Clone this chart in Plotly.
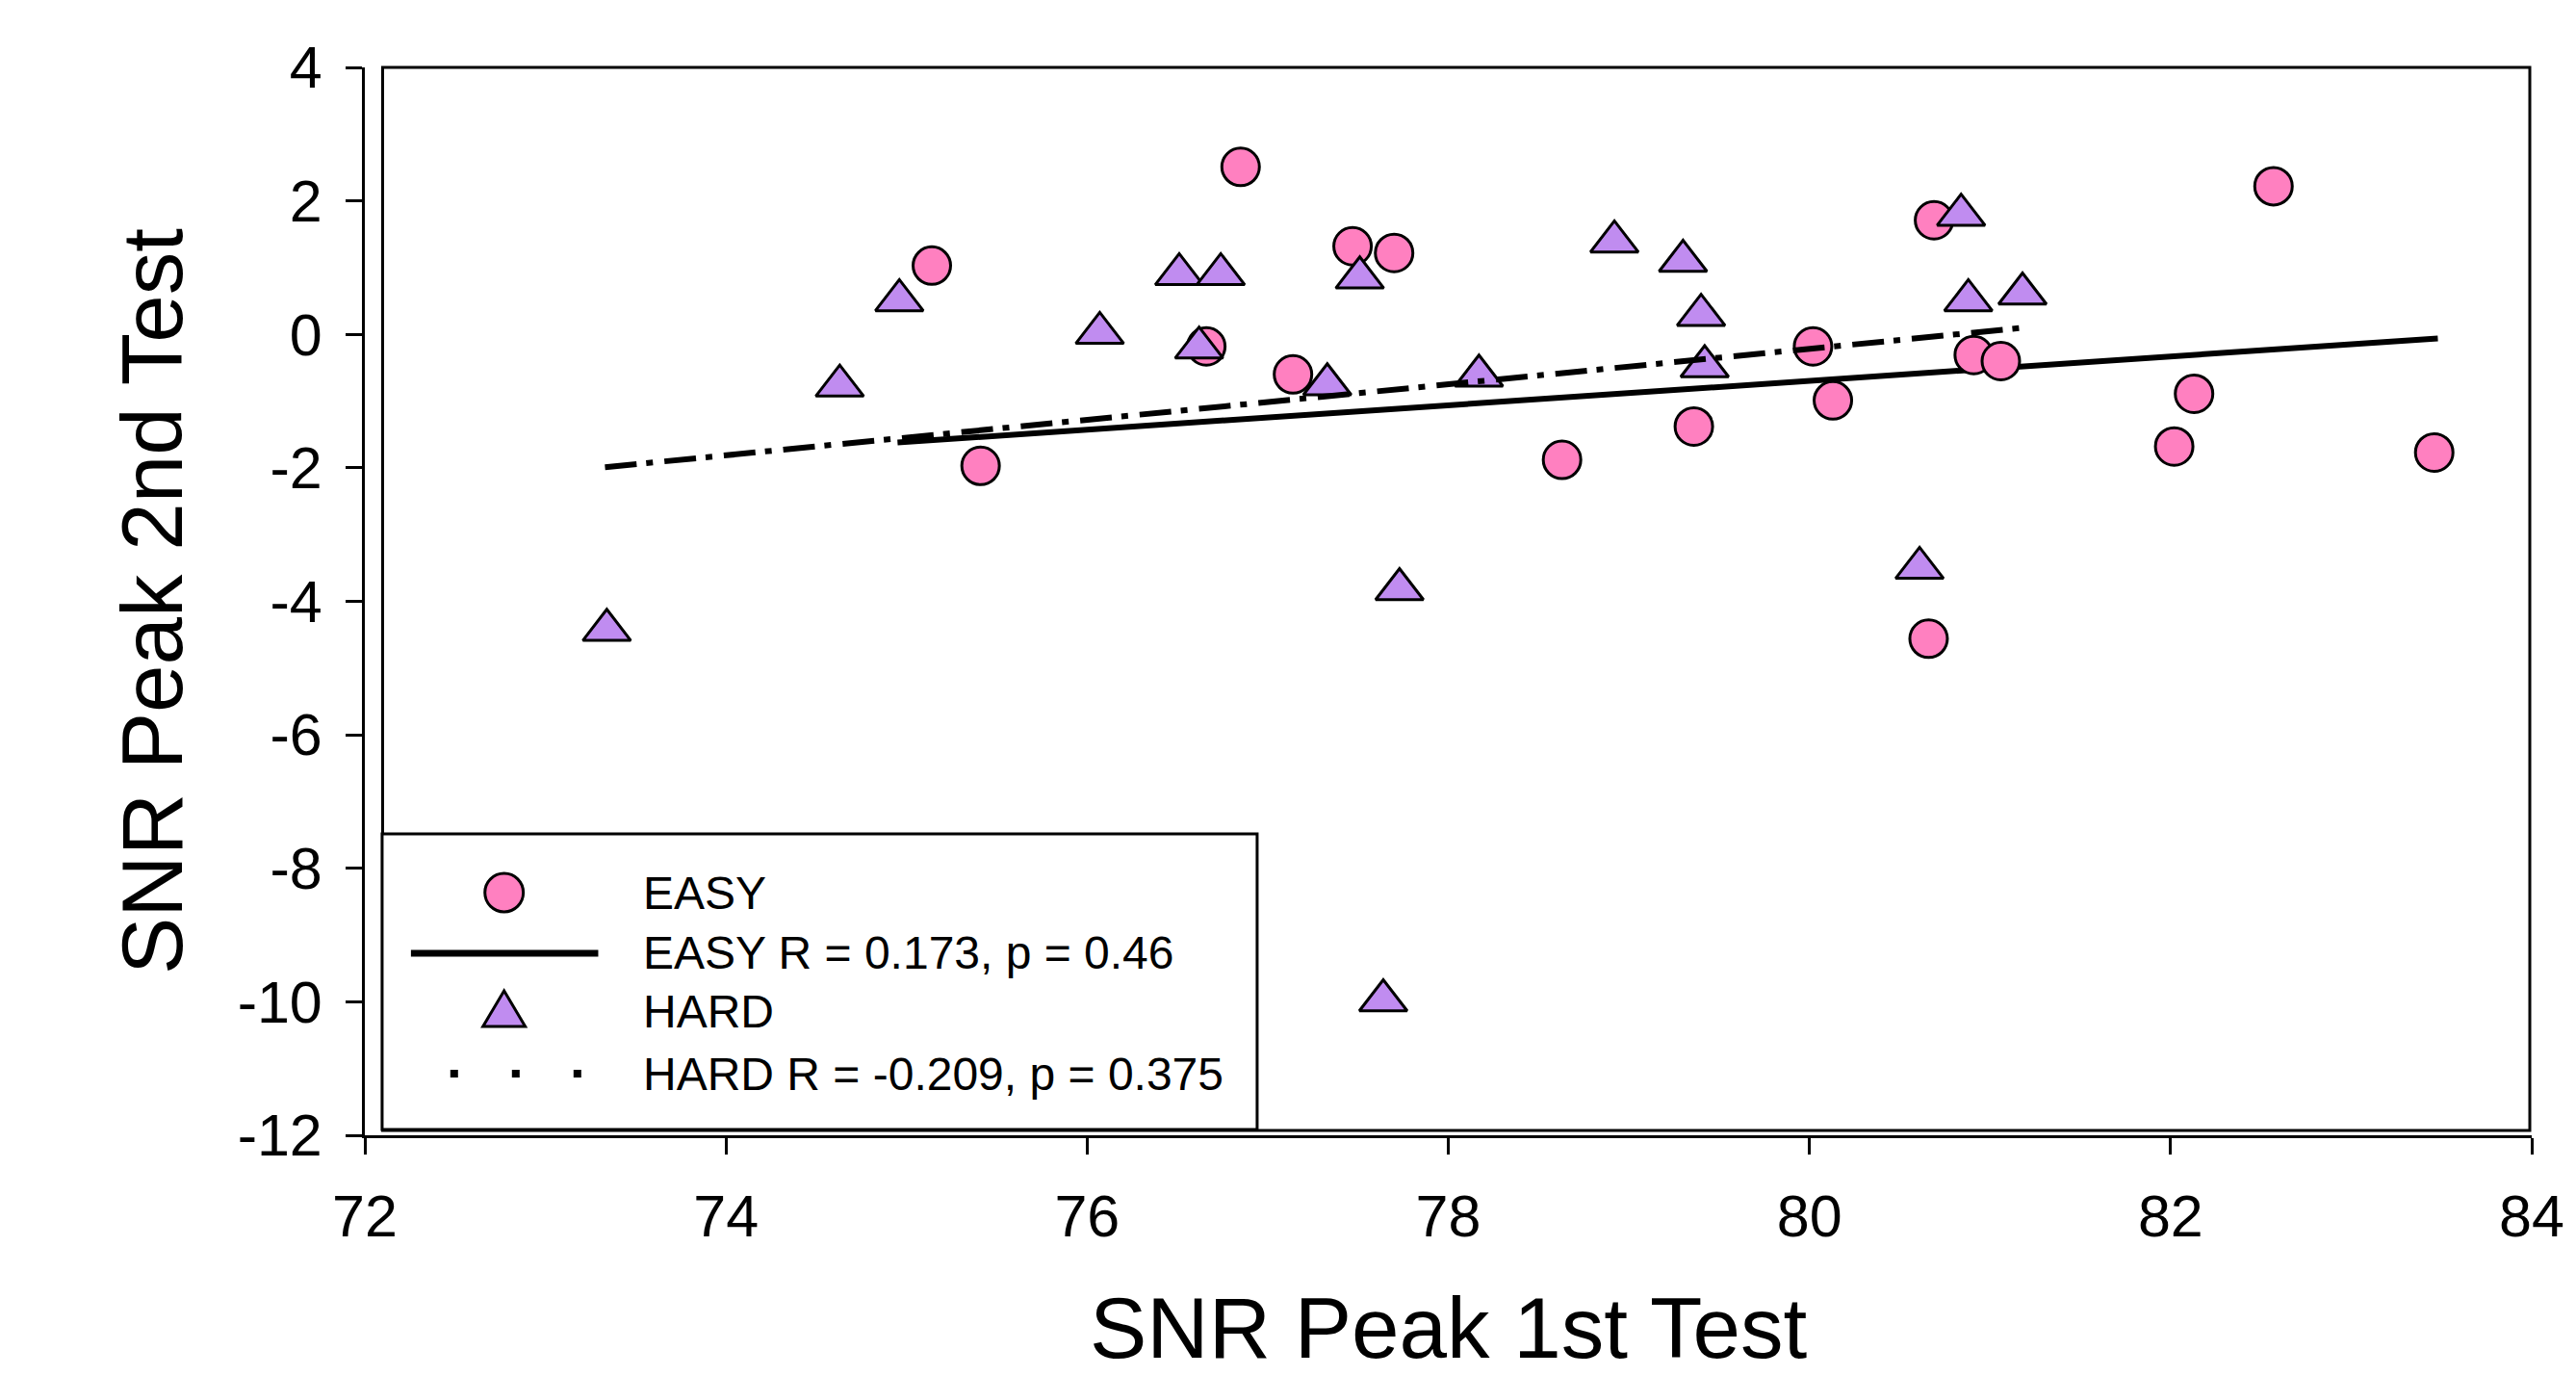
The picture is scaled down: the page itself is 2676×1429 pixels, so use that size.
import plotly.graph_objects as go

# data
easy_x = [75.14, 75.41, 76.85, 76.66, 77.14, 77.47, 77.70, 78.63, 79.36, 80.02,
          80.13, 80.66, 80.69, 80.91, 81.06, 82.02, 82.13, 82.57, 83.46]
easy_y = [1.03, -1.97, 2.51, -0.18, -0.60, 1.32, 1.22, -1.88, -1.38, -0.18,
          -0.99, -4.56, 1.71, -0.31, -0.40, -1.68, -0.89, 2.22, -1.77]

hard_x = [73.34, 74.63, 74.96, 76.07, 76.51, 76.74, 76.62, 77.33, 77.51, 77.64,
          77.73, 78.17, 78.92, 79.30, 79.40, 79.42, 80.61, 80.84, 80.88, 81.18]
hard_y = [-4.43, -0.77, 0.51, 0.02, 0.90, 0.90, -0.20, -0.75, 0.85, -9.98,
          -3.82, -0.62, 1.39, 1.10, 0.29, -0.48, -3.50, 1.79, 0.51, 0.61]

easy_fit_x = [74.95, 83.48]
easy_fit_y = [-1.62, -0.06]
hard_fit_x = [73.33, 81.19]
hard_fit_y = [-1.99, 0.10]

x_ticks = [72, 74, 76, 78, 80, 82, 84]
y_ticks = [4, 2, 0, -2, -4, -6, -8, -10, -12]
y_tick_text = ["4", "2", "0", "-2", "-4", "-6", "-8", "-10", "-12"]

legend_labels = ["EASY", "EASY R = 0.173, p = 0.46", "HARD", "HARD R = -0.209, p = 0.375"]

PINK = "#FF80C0"
PURPLE = "#C08CF0"
FONT = "Liberation Sans, Arial, sans-serif"

W, H = 2676, 1429
# plot area in page pixels
L, R, T, B = 379, 2635, 70, 1179


def px(xp):
    return (xp - L) / (R - L)


def py(yp):
    return (B - yp) / (B - T)


fig = go.Figure()

fig.add_trace(go.Scatter(x=easy_fit_x, y=easy_fit_y, mode="lines",
                         line=dict(color="black", width=6)))
fig.add_trace(go.Scatter(x=easy_x, y=easy_y, mode="markers",
                         marker=dict(symbol="circle", size=39, color=PINK,
                                     line=dict(color="black", width=3))))
fig.add_trace(go.Scatter(x=hard_x, y=hard_y, mode="markers",
                         marker=dict(symbol="triangle-up", size=43, color=PURPLE,
                                     line=dict(color="black", width=3))))
fig.add_trace(go.Scatter(x=hard_fit_x, y=hard_fit_y, mode="lines",
                         line=dict(color="black", width=6, dash="33px,10px,7px,12px")))

axis_common = dict(showgrid=False, zeroline=False, showline=True, linecolor="black",
                   linewidth=3, ticks="outside", ticklen=17, tickwidth=3,
                   tickcolor="black", ticklabeloverflow="allow",
                   tickfont=dict(family=FONT, size=61, color="black"))

fig.update_xaxes(range=[72, 84], tickvals=x_ticks, ticklabelstandoff=12, **axis_common)
fig.update_yaxes(range=[-12, 4], tickvals=y_ticks, ticktext=y_tick_text,
                 ticklabelstandoff=12, **axis_common)

shapes = []
# frame box (slightly inset from the axes)
shapes.append(dict(type="rect", xref="paper", yref="paper",
                   x0=px(397.5), x1=px(2633), y0=py(1174), y1=py(70),
                   line=dict(color="black", width=3), layer="above"))
# legend box
shapes.append(dict(type="rect", xref="paper", yref="paper",
                   x0=px(397), x1=px(1308), y0=py(1173), y1=py(866),
                   fillcolor="white", line=dict(color="black", width=3), layer="above"))
# legend keys
shapes.append(dict(type="circle", xref="paper", yref="paper",
                   x0=px(504), x1=px(544), y0=py(947), y1=py(907),
                   fillcolor=PINK, line=dict(color="black", width=3), layer="above"))
shapes.append(dict(type="line", xref="paper", yref="paper",
                   x0=px(427), x1=px(622), y0=py(990), y1=py(990),
                   line=dict(color="black", width=7), layer="above"))
tri = "M {} {} L {} {} L {} {} Z".format(px(524), py(1029), px(546), py(1066), px(502), py(1066))
shapes.append(dict(type="path", xref="paper", yref="paper", path=tri,
                   fillcolor=PURPLE, line=dict(color="black", width=3), layer="above"))
shapes.append(dict(type="line", xref="paper", yref="paper",
                   x0=px(468), x1=px(606), y0=py(1115), y1=py(1115),
                   line=dict(color="black", width=8, dash="8px,56px"), layer="above"))

annotations = []
for lab, yrow in zip(legend_labels, [927, 990, 1050, 1115]):
    annotations.append(dict(text=lab, xref="paper", yref="paper", x=px(667), y=py(yrow),
                            xanchor="left", yanchor="middle", showarrow=False,
                            font=dict(family=FONT, size=48, color="black")))

annotations.append(dict(text="SNR Peak 1st Test", xref="paper", yref="paper",
                        x=0.5, y=py(1379), xanchor="center", yanchor="middle",
                        showarrow=False, font=dict(family=FONT, size=89, color="black")))
annotations.append(dict(text="SNR Peak 2nd Test", xref="paper", yref="paper",
                        x=px(157), y=0.5, xanchor="center", yanchor="middle",
                        textangle=-90, showarrow=False,
                        font=dict(family=FONT, size=89, color="black")))

fig.update_layout(width=W, height=H, autosize=False,
                  margin=dict(l=L, r=W - R, t=T, b=H - B, pad=0),
                  plot_bgcolor="white", paper_bgcolor="white",
                  showlegend=False, shapes=shapes, annotations=annotations)

# drop the default page margin so the figure fills the window exactly
fig.write_html("out.html", config={"displayModeBar": False},
               post_script="document.body.style.margin='0px';document.body.style.overflow='hidden';")
